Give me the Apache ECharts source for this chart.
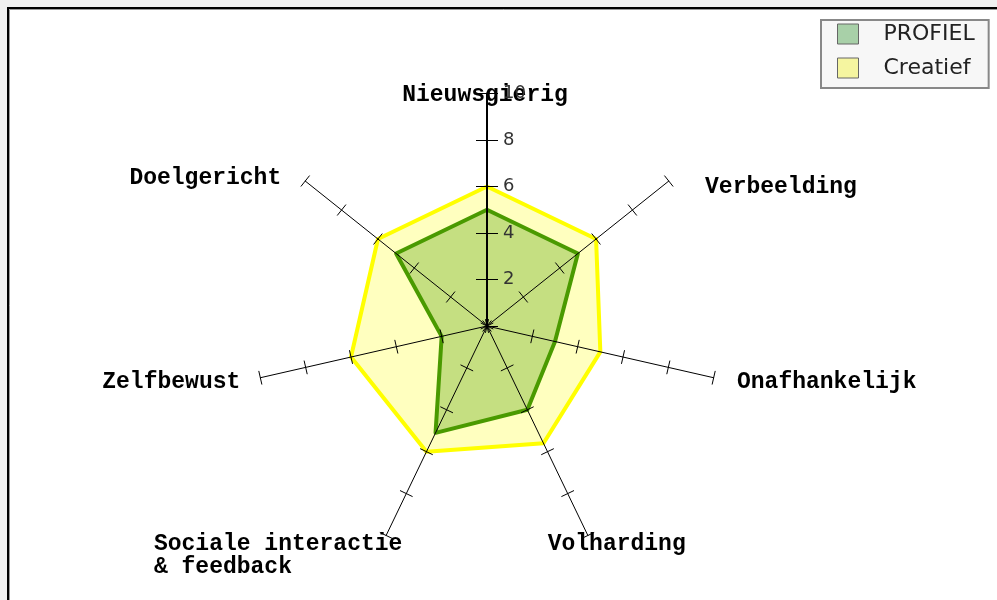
<!DOCTYPE html>
<html><head><meta charset="utf-8">
<script src="https://cdn.jsdelivr.net/npm/echarts@6/dist/echarts.min.js"></script>
<style>html,body{margin:0;padding:0;background:#f0f0f0}#c{width:997px;height:600px}</style>
</head><body><div id="c"></div>
<script>
// Indicators in ECharts' counter-clockwise order starting at the top
const categories = ['Nieuwsgierig', 'Doelgericht', 'Zelfbewust', 'Sociale interactie\n& feedback        ', 'Volharding', 'Onafhankelijk', 'Verbeelding'];
const axisMax = 10;
const tickLabels = ['2', '4', '6', '8', '10'];
const seriesNames = ['PROFIEL', 'Creatief'];
const profielValues = [5, 5, 2, 5.1, 4, 3, 5];
const creatiefValues = [6, 6, 6, 6, 5.6, 5, 6];

const namePads = [[0,4,0,0],[0,192,0,0],[0,143,0,0],[0,196,0,0],[0,0,0,49],[0,0,0,191],[0,0,0,240]];
const nameGaps = [-1.5, 5, 18, 23, 10, 18, -10];

function buildIndicators(primary) {
  return categories.map((n, i) => ({
    name: n, min: 0, max: axisMax, nameGap: nameGaps[i], nameMoveOverlap: false,
    nameTextStyle: { align: 'center', verticalAlign: 'middle', padding: namePads[i] },
    axisLabel: { show: primary && i === 0 },
    axisTick: { length: (i === 0 ? 11 : 7) * (primary ? 1 : -1) },
    axisLine: { lineStyle: { width: i === 0 ? 2 : 1 } }
  }));
}

const radarBase = {
  center: [487, 326], radius: 232.5, startAngle: 90,
  splitNumber: tickLabels.length, shape: 'polygon', nameGap: 0,
  splitLine: { show: false }, splitArea: { show: false }, z: 5
};

const chart = echarts.init(document.getElementById('c'), null, { renderer: 'canvas' });
chart.setOption({
  backgroundColor: '#f0f0f0',
  animation: false,
  graphic: [
    { type: 'rect', z: -10, shape: { x: 8, y: 8, width: 1000, height: 600 }, style: { fill: '#fff', stroke: '#000', lineWidth: 2 } },
    { type: 'rect', z: -9, shape: { x: 9.5, y: 9.5, width: 1000, height: 600 }, style: { fill: 'none', stroke: '#999', lineWidth: 1 } }
  ],
  legend: {
    orient: 'vertical', left: 821, top: 20, icon: 'rect',
    padding: [3, 14, 9, 16], itemGap: 12, itemWidth: 21, itemHeight: 20,
    borderColor: '#888', borderWidth: 2, backgroundColor: '#f7f7f7',
    textStyle: { fontFamily: 'DejaVu Sans', fontSize: 22, color: '#222', padding: [0, 0, 0, 20] },
    data: [
      { name: seriesNames[0], itemStyle: { color: '#a8d0a8', borderColor: '#666', borderWidth: 1 } },
      { name: seriesNames[1], itemStyle: { color: '#f5f5a0', borderColor: '#666', borderWidth: 1 } }
    ]
  },
  radar: [
    Object.assign({}, radarBase, {
      indicator: buildIndicators(true),
      nameMoveOverlap: false,
      axisName: { show: true, color: '#000', fontFamily: 'Liberation Mono', fontWeight: 'bold', fontSize: 23 },
      axisLine: { show: true, lineStyle: { color: '#000', width: 1 } },
      axisTick: { show: true, inside: false, lineStyle: { color: '#000', width: 1 } },
      axisLabel: { show: false, showMinLabel: false, color: '#333', fontFamily: 'DejaVu Sans', fontSize: 18, margin: -16, align: 'left' }
    }),
    Object.assign({}, radarBase, {
      indicator: buildIndicators(false),
      axisName: { show: false },
      axisLine: { show: false },
      axisTick: { show: true, inside: false, lineStyle: { color: '#000', width: 1 } },
      axisLabel: { show: false }
    })
  ],
  series: [{
    type: 'radar', radarIndex: 0, z: 2, symbol: 'none',
    lineStyle: { width: 4 },
    data: [
      { name: seriesNames[1], value: creatiefValues, symbol: 'none',
        lineStyle: { color: '#ffff00', width: 4 }, areaStyle: { color: '#ffff00', opacity: 0.25 }, itemStyle: { color: '#f5f5a0' } },
      { name: seriesNames[0], value: profielValues, symbol: 'none',
        lineStyle: { color: '#4a9a00', width: 4 }, areaStyle: { color: '#4a9a00', opacity: 0.32 }, itemStyle: { color: '#a8d0a8' } }
    ]
  }]
});
</script></body></html>
